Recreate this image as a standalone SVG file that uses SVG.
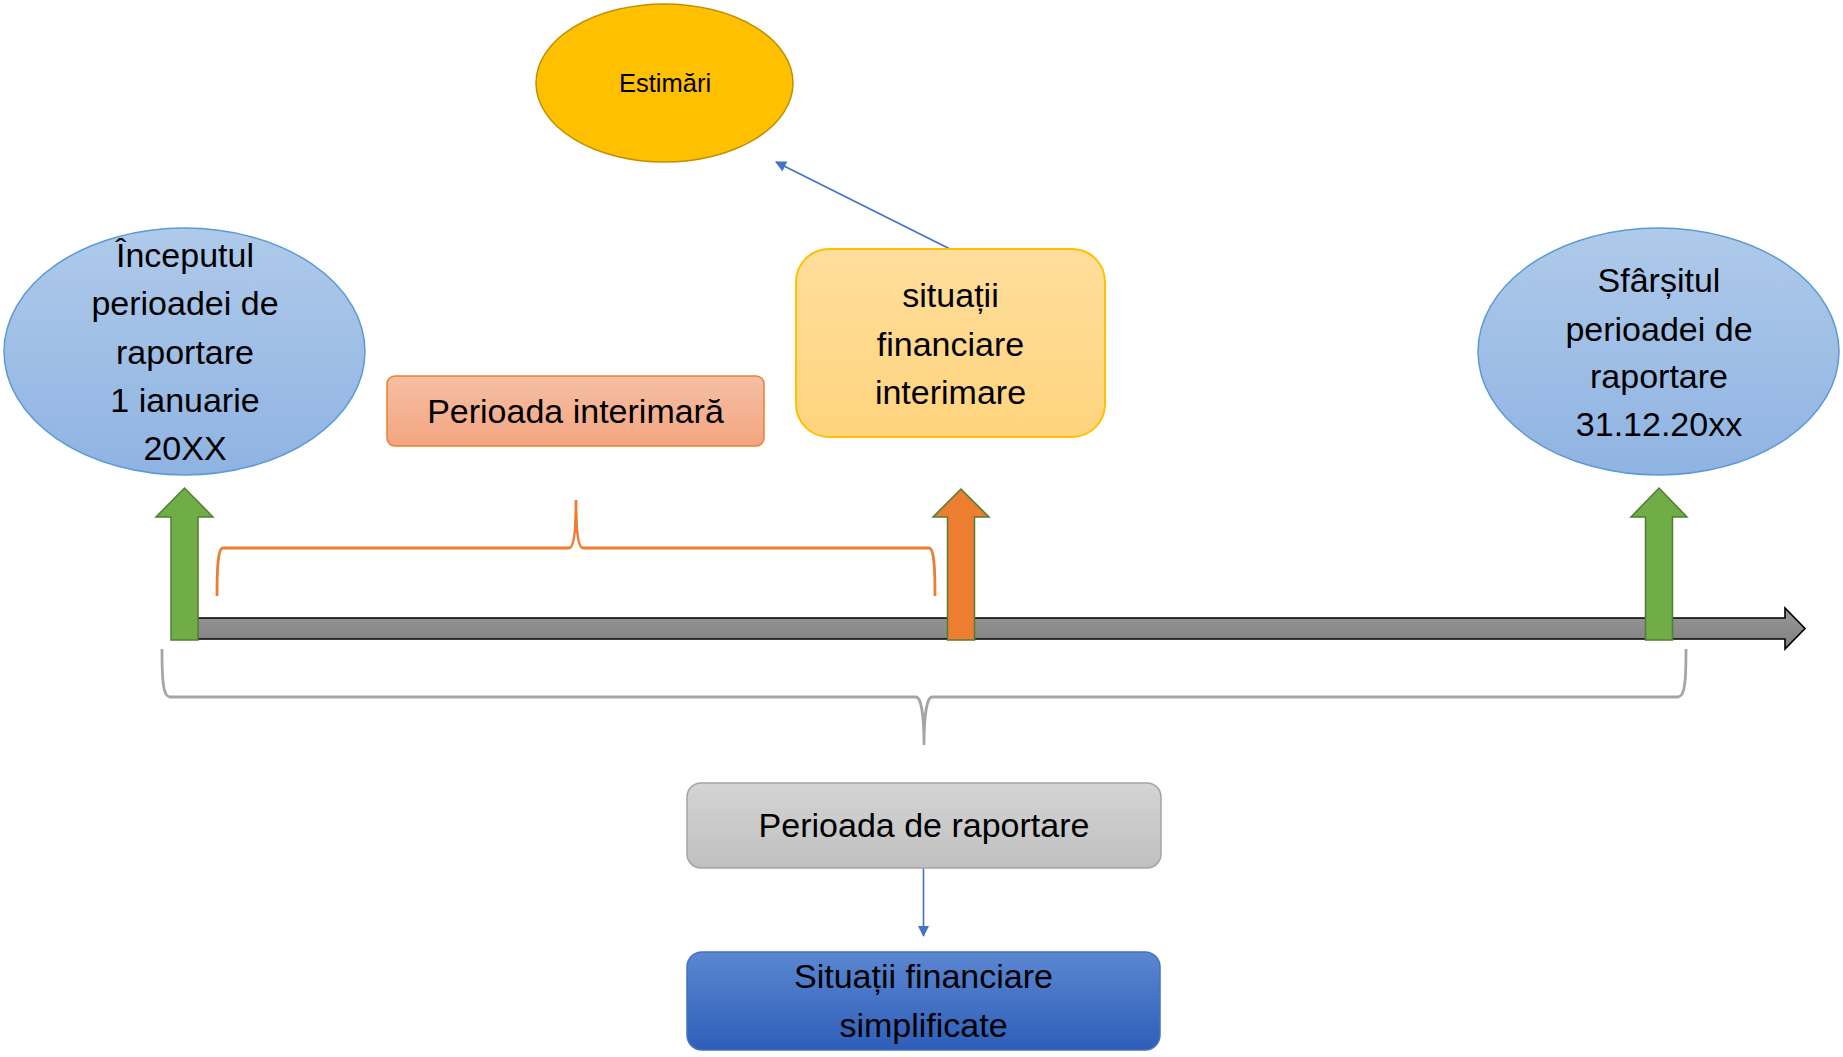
<svg xmlns="http://www.w3.org/2000/svg" width="1843" height="1057" viewBox="0 0 1843 1057">
<style>
  text { font-family: "Liberation Sans", Arial, sans-serif; fill: #000; text-anchor: middle; }
  .t34 { font-size: 34px; }
  .t24 { font-size: 25.5px; }
  .conn { stroke: #4472C4; stroke-width: 1.6; fill: none; }
  .upg { fill: #70AD47; stroke: #507E32; stroke-width: 1.5; }
  .upo { fill: #ED7D31; stroke: #507E32; stroke-width: 1.5; }
  .ell { fill: url(#gBlueL); stroke: #5B9BD5; stroke-width: 1.5; }
</style>
<defs>
  <linearGradient id="gBlueL" x1="0" y1="0" x2="0" y2="1">
    <stop offset="0" stop-color="#AFCAEA"/>
    <stop offset="1" stop-color="#8FB3E2"/>
  </linearGradient>
  <linearGradient id="gYel" x1="0" y1="0" x2="0" y2="1">
    <stop offset="0" stop-color="#FFDD9C"/>
    <stop offset="1" stop-color="#FFD47D"/>
  </linearGradient>
  <linearGradient id="gOra" x1="0" y1="0" x2="0" y2="1">
    <stop offset="0" stop-color="#F5BFA4"/>
    <stop offset="1" stop-color="#F3A581"/>
  </linearGradient>
  <linearGradient id="gGray" x1="0" y1="0" x2="0" y2="1">
    <stop offset="0" stop-color="#D4D4D4"/>
    <stop offset="1" stop-color="#C0C0C0"/>
  </linearGradient>
  <linearGradient id="gBlue" x1="0" y1="0" x2="0" y2="1">
    <stop offset="0" stop-color="#5B87D1"/>
    <stop offset="1" stop-color="#2E5EBA"/>
  </linearGradient>
  <linearGradient id="gBar" x1="0" y1="0" x2="0" y2="1">
    <stop offset="0" stop-color="#989898"/>
    <stop offset="1" stop-color="#808080"/>
  </linearGradient>
  <marker id="ah" viewBox="0 0 10 10" refX="9" refY="5" markerUnits="userSpaceOnUse" markerWidth="13" markerHeight="11" orient="auto">
    <path d="M0,0 L10,5 L0,10 Z" fill="#4472C4"/>
  </marker>
</defs>

<g id="timeline">
  <path d="M172,618 L1785,618 L1785,608 L1805,628.5 L1785,649 L1785,639 L172,639 Z" fill="url(#gBar)" stroke="#000" stroke-width="1.6"/>
</g>

<g id="braces">
  <path d="M217,596 C217,568 218,548 223,548 L569,548 C574,548 576,530 576,500 C576,530 578,548 583,548 L929,548 C934,548 935,568 935,596" fill="none" stroke="#ED7D31" stroke-width="2.8"/>
  <path d="M162,649 C162,680 163,697 170,697 L916,697 C921,697 924,715 924,745 C924,715 927,697 932,697 L1678,697 C1685,697 1686,680 1686,649" fill="none" stroke="#A5A5A5" stroke-width="2.8"/>
</g>

<g id="arrow-start">
  <path class="upg" d="M171,640 L171,517 L156,517 L184.5,488 L213,517 L198,517 L198,640 Z"/>
</g>
<g id="arrow-interim">
  <path class="upo" d="M947.5,640 L947.5,517 L933,517 L961,489 L989,517 L974.5,517 L974.5,640 Z"/>
</g>
<g id="arrow-end">
  <path class="upg" d="M1645.5,640 L1645.5,517 L1631,517 L1659,488 L1687,517 L1672.5,517 L1672.5,640 Z"/>
</g>

<g id="connectors">
  <line class="conn" x1="950" y1="249" x2="776" y2="162" marker-end="url(#ah)"/>
  <line class="conn" x1="923.5" y1="868" x2="923.5" y2="936" marker-end="url(#ah)"/>
</g>

<g id="estimari">
  <ellipse cx="664.5" cy="83" rx="128.5" ry="79" fill="#FFC000" stroke="#BF9000" stroke-width="1.5"/>
  <text class="t24" x="665" y="91.5">Estimări</text>
</g>

<g id="inceput">
  <ellipse class="ell" cx="184.5" cy="351.5" rx="180.5" ry="123.5"/>
  <text class="t34" x="185" y="267">Începutul</text>
  <text class="t34" x="185" y="315">perioadei de</text>
  <text class="t34" x="185" y="363.5">raportare</text>
  <text class="t34" x="185" y="412">1 ianuarie</text>
  <text class="t34" x="185" y="460">20XX</text>
</g>

<g id="sfarsit">
  <ellipse class="ell" cx="1658.5" cy="351.5" rx="180.5" ry="123.5"/>
  <text class="t34" x="1659" y="292">Sfârșitul</text>
  <text class="t34" x="1659" y="340.5">perioadei de</text>
  <text class="t34" x="1659" y="388">raportare</text>
  <text class="t34" x="1659" y="435.5">31.12.20xx</text>
</g>

<g id="perioada-interimara">
  <rect x="387" y="376" width="377" height="70" rx="8" fill="url(#gOra)" stroke="#ED7D31" stroke-width="1.5"/>
  <text class="t34" x="575.5" y="423">Perioada interimară</text>
</g>

<g id="situatii-interimare">
  <rect x="796" y="249" width="309" height="188" rx="33" fill="url(#gYel)" stroke="#FFC000" stroke-width="2"/>
  <text class="t34" x="950.5" y="306.5">situații</text>
  <text class="t34" x="950.5" y="355.5">financiare</text>
  <text class="t34" x="950.5" y="404">interimare</text>
</g>

<g id="perioada-raportare">
  <rect x="687" y="783" width="474" height="85" rx="14" fill="url(#gGray)" stroke="#A5A5A5" stroke-width="1.5"/>
  <text class="t34" x="924" y="837">Perioada de raportare</text>
</g>

<g id="situatii-simplificate">
  <rect x="687" y="952" width="473" height="98" rx="15" fill="url(#gBlue)" stroke="#4472C4" stroke-width="1.5"/>
  <text class="t34" x="923.5" y="988">Situații financiare</text>
  <text class="t34" x="923.5" y="1037">simplificate</text>
</g>
</svg>
